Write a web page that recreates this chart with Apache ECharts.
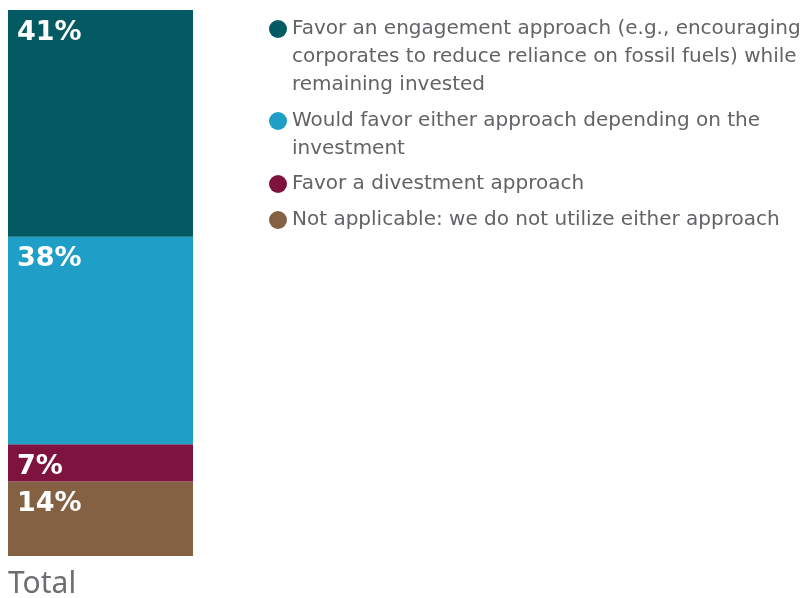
<!DOCTYPE html>
<html>
<head>
<meta charset="utf-8">
<script src="https://cdn.jsdelivr.net/npm/echarts@6/dist/echarts.min.js"></script>
<style>
  html, body { margin: 0; padding: 0; background: #fff; }
  #main { width: 809px; height: 598px; }
</style>
</head>
<body>
<div id="main"></div>
<script>
// data (bottom of the stack first), shares
var categories = ["Total"];
var seriesNames = [
  "Not applicable: we do not utilize either approach",
  "Favor a divestment approach",
  "Would favor either approach depending on the investment",
  "Favor an engagement approach (e.g., encouraging corporates to reduce reliance on fossil fuels) while remaining invested"
];
var notApplicable = [13.6];
var divestment = [6.8];
var either = [37.9];
var engagement = [41.4];

// legend lines as they wrap in the picture
var legendLines = {};
legendLines[seriesNames[3]] = ["Favor an engagement approach (e.g., encouraging", "corporates to reduce reliance on fossil fuels) while", "remaining invested"];
legendLines[seriesNames[2]] = ["Would favor either approach depending on the", "investment"];
legendLines[seriesNames[1]] = ["Favor a divestment approach"];
legendLines[seriesNames[0]] = ["Not applicable: we do not utilize either approach"];

var colors = ["#846142", "#7e1340", "#1f9fc7", "#035a63"];
var values = [notApplicable, divestment, either, engagement];

var chart = echarts.init(document.getElementById("main"));

var LINE_H = 28;
// icon centre y of each legend entry, top to bottom
var legendCentres = [29, 121, 184, 220];
var legendOrder = [seriesNames[3], seriesNames[2], seriesNames[1], seriesNames[0]];

var legends = legendOrder.map(function (name, i) {
  var n = legendLines[name].length;
  return {
    data: [name],
    orient: "vertical",
    left: 269,
    top: legendCentres[i] - (2 * n - 1) * LINE_H / 2,
    padding: 0,
    itemWidth: 18,
    itemHeight: 18,
    icon: "circle",
    selectedMode: false,
    textStyle: {
      fontFamily: "DejaVu Sans",
      fontSize: 20,
      lineHeight: LINE_H,
      color: "#626366"
    },
    formatter: function (nm) {
      var lines = legendLines[nm];
      // blank lines above keep the dot level with the first line
      var pad = [];
      for (var k = 1; k < lines.length; k++) pad.push("");
      return pad.concat(lines).join("\n");
    }
  };
});

var series = seriesNames.map(function (name, i) {
  return {
    name: name,
    type: "bar",
    stack: "total",
    barWidth: "100%",
    data: values[i],
    itemStyle: { color: colors[i] },
    label: {
      show: true,
      position: "insideTopLeft",
      distance: 9,
      formatter: function (p) {
        return Math.round(p.value) + "%";
      },
      color: "#fff",
      fontFamily: "DejaVu Sans",
      fontWeight: "bold",
      fontSize: 27
    }
  };
});

var option = {
  animation: false,
  legend: legends,
  grid: {
    left: 8,
    width: 185,
    top: 10,
    bottom: 42,
    containLabel: false,
    outerBoundsMode: "none"
  },
  xAxis: {
    type: "category",
    data: categories,
    axisLine: { show: false },
    axisTick: { show: false },
    axisLabel: {
      align: "left",
      padding: [0, 0, 0, -92.5],
      margin: 13,
      fontFamily: "Noto Sans",
      fontSize: 30,
      lineHeight: 30,
      color: "#6d6e71"
    }
  },
  yAxis: {
    type: "value",
    min: 0,
    max: function (v) {
      return v.max;
    },
    show: false,
    splitLine: { show: false }
  },
  series: series
};

chart.setOption(option);
window.addEventListener("resize", function () {
  chart.resize();
});
</script>
</body>
</html>
